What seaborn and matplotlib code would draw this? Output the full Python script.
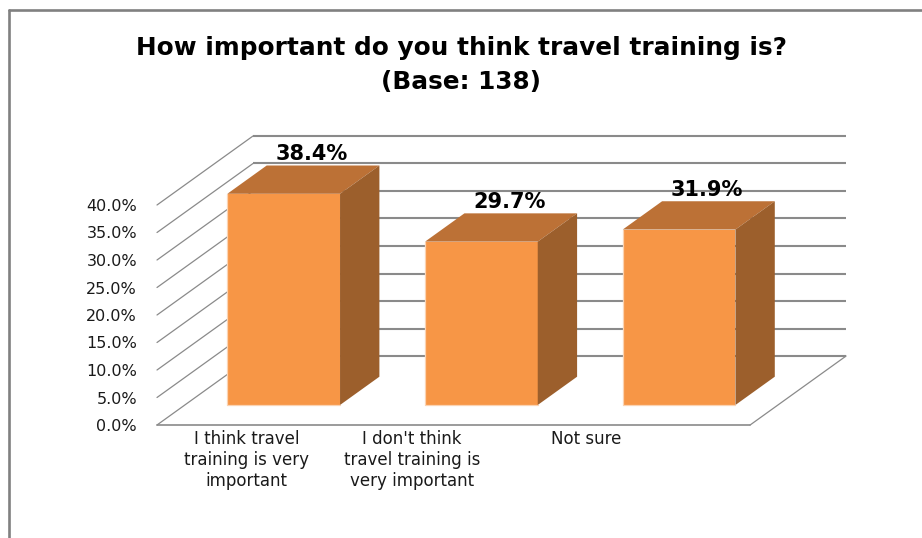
import matplotlib
matplotlib.use("Agg")
import matplotlib.pyplot as plt
from matplotlib.lines import Line2D
import numpy as np
import pandas as pd
import seaborn as sns

# ---- data ----
categories = [
    "I think travel\ntraining is very\nimportant",
    "I don't think\ntravel training is\nvery important",
    "Not sure",
]
values = [38.4, 29.7, 31.9]
y_ticks = [0, 5, 10, 15, 20, 25, 30, 35, 40]
title_line1 = "How important do you think travel training is?"
title_line2 = "(Base: 138)"

# ---- figure geometry (pixels) ----
W, H, DPI = 922, 538, 100
X0, Y0 = 157, 425          # front-left corner of the floor
CAT_PX = 197.7             # width of one category slot
PCT_PX = 5.5               # pixels per percentage point
DEPTH_PX = (96, -69)       # oblique depth vector of the whole box
T_FRONT, T_BACK = 0.29, 0.70   # depth range occupied by the bars

FRONT = "#F79646"
TOP = "#BC7136"
SIDE = "#9C5F2C"
BEVEL = "#FBD3B2"
GRID = "#8a8a8a"

sns.set_theme(style="white")
plt.rcParams["font.family"] = ["DejaVu Sans"]

fig = plt.figure(figsize=(W / DPI, H / DPI), dpi=DPI)
fig.patch.set_facecolor("white")
ax = fig.add_axes([X0 / W, (H - Y0) / H, (W - X0) / W, Y0 / H])
ax.set_facecolor("none")

DX = DEPTH_PX[0] / CAT_PX
DY = -DEPTH_PX[1] / PCT_PX
n = len(categories)


def proj(c, v, t):
    return c + t * DX, v + t * DY


# back wall, side wall and floor
for v in y_ticks:
    a, b = proj(-0.5, v, 1), proj(n - 0.5, v, 1)
    ax.plot([a[0], b[0]], [a[1], b[1]], color=GRID, lw=1.5, zorder=1,
            clip_on=False, solid_capstyle="butt")
    a, b = proj(-0.5, v, 0), proj(-0.5, v, 1)
    ax.plot([a[0], b[0]], [a[1], b[1]], color=GRID, lw=0.9, zorder=1,
            clip_on=False)
a, b = proj(-0.5, 0, 0), proj(n - 0.5, 0, 0)
ax.plot([a[0], b[0]], [a[1], b[1]], color=GRID, lw=1.2, zorder=1, clip_on=False)
a, b = proj(n - 0.5, 0, 0), proj(n - 0.5, 0, 1)
ax.plot([a[0], b[0]], [a[1], b[1]], color=GRID, lw=0.9, zorder=1, clip_on=False)

# front faces of the bars
df = pd.DataFrame({"category": categories, "share": values})
sns.barplot(data=df, x="category", y="share", width=0.57, color=FRONT,
            saturation=1, ax=ax, zorder=3, linewidth=0)

bdx = (T_BACK - T_FRONT) * DX
bdy = (T_BACK - T_FRONT) * DY
for p in ax.patches:
    p.set_x(p.get_x() + T_FRONT * DX)
    p.set_y(T_FRONT * DY)
    p.set_clip_on(False)
    x0, y0 = p.get_x(), p.get_y()
    x1, h = x0 + p.get_width(), p.get_height()
    ax.fill([x0, x1, x1 + bdx, x0 + bdx],
            [y0 + h, y0 + h, y0 + h + bdy, y0 + h + bdy],
            color=TOP, lw=0, zorder=3, clip_on=False)
    ax.fill([x1, x1, x1 + bdx, x1 + bdx],
            [y0, y0 + h, y0 + h + bdy, y0 + bdy],
            color=SIDE, lw=0, zorder=3, clip_on=False)
    # light bevel along the left and bottom edges of the front face
    ax.plot([x0, x0, x1], [y0 + h, y0, y0], color=BEVEL, lw=0.9,
            zorder=4, clip_on=False)

# value labels above each bar
for i, v in enumerate(values):
    ax.annotate(f"{v:.1f}%", xy=proj(i, v, 0.58), xytext=(0, 14.4),
                textcoords="offset points", ha="center", va="center",
                fontsize=15, fontweight="bold", color="black", zorder=5,
                annotation_clip=False)

ax.set_xlim(-0.5, -0.5 + (W - X0) / CAT_PX)
ax.set_ylim(0, Y0 / PCT_PX)
ax.set_xticks([])
ax.set_yticks(y_ticks)
ax.set_yticklabels([f"{t:.1f}%" for t in y_ticks])
ax.tick_params(axis="y", length=0, pad=14.4, labelsize=11.5, labelcolor="#1a1a1a")
ax.set_xlabel("")
ax.set_ylabel("")
for s in ax.spines.values():
    s.set_visible(False)

# category labels under the floor
label_pos = [-0.046, 0.79, 1.67]
for c, lab in zip(label_pos, categories):
    ax.text(c, -5 / PCT_PX, lab, ha="center", va="top", fontsize=12,
            color="#1a1a1a", linespacing=1.2, clip_on=False)

# title
fig.text(0.5, 1 - 48 / H, title_line1, ha="center", va="center",
         fontsize=17.8, fontweight="bold", color="black")
fig.text(0.5, 1 - 82 / H, title_line2, ha="center", va="center",
         fontsize=17.8, fontweight="bold", color="black")

# chart frame (left and top edges)
fig.add_artist(Line2D([9 / W, 9 / W], [0, 1 - 10 / H], color="#808080",
                      lw=1.9, transform=fig.transFigure))
fig.add_artist(Line2D([9 / W, 1], [1 - 10 / H, 1 - 10 / H], color="#808080",
                      lw=1.9, transform=fig.transFigure))

fig.savefig("out.png", dpi=DPI)
